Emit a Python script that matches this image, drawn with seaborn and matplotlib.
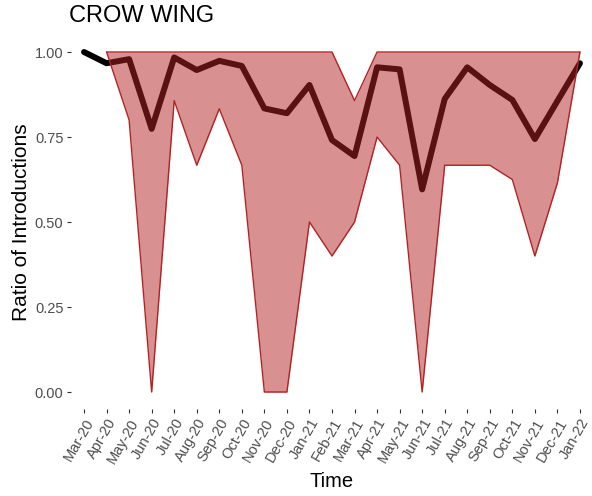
import numpy as np
import pandas as pd
import matplotlib
matplotlib.use("Agg")
import matplotlib.pyplot as plt
import seaborn as sns

# -------------------------------
# DATA
# -------------------------------
months = ["Mar-20", "Apr-20", "May-20", "Jun-20", "Jul-20", "Aug-20", "Sep-20",
          "Oct-20", "Nov-20", "Dec-20", "Jan-21", "Feb-21", "Mar-21", "Apr-21",
          "May-21", "Jun-21", "Jul-21", "Aug-21", "Sep-21", "Oct-21", "Nov-21",
          "Dec-21", "Jan-22"]
mean_ratio = [1.00, 0.967, 0.979, 0.774, 0.984, 0.947, 0.974, 0.959, 0.834, 0.820,
              0.903, 0.741, 0.694, 0.955, 0.949, 0.596, 0.862, 0.955, 0.903, 0.859,
              0.744, 0.856, 0.967]
lower = [np.nan, 1.00, 0.80, 0.00, 0.857, 0.667, 0.833, 0.667, 0.00, 0.00,
         0.50, 0.40, 0.50, 0.75, 0.667, 0.00, 0.667, 0.667, 0.667, 0.625,
         0.40, 0.615, 1.00]
upper = [np.nan, 1.00, 1.00, 1.00, 1.00, 1.00, 1.00, 1.00, 1.00, 1.00,
         1.00, 1.00, 0.857, 1.00, 1.00, 1.00, 1.00, 1.00, 1.00, 1.00,
         1.00, 1.00, 1.00]

df = pd.DataFrame({"idx": range(len(months)), "Time": months,
                   "mean": mean_ratio, "lower": lower, "upper": upper})

# -------------------------------
# STYLE
# -------------------------------
sns.set_theme(style="white")
plt.rcParams["font.family"] = ["Liberation Sans", "DejaVu Sans"]

fig = plt.figure(figsize=(5.92, 4.96), dpi=100)
ax = fig.add_axes([0.1191, 0.1754, 0.8834, 0.754])

# mean line first, ribbon drawn over it with alpha
sns.lineplot(data=df, x="idx", y="mean", color="black", linewidth=4.3,
             ax=ax, zorder=2)
ax.fill_between(df["idx"], df["lower"], df["upper"], facecolor="#b22222",
                alpha=0.5, zorder=3, linewidth=0)
ax.plot(df["idx"], df["upper"], color="#b22222", linewidth=1.0, zorder=4)
ax.plot(df["idx"], df["lower"], color="#b22222", linewidth=1.0, zorder=4)

# axes
ax.set_xlim(-0.6, len(months) - 1 + 0.6)
ax.set_ylim(-0.05, 1.05)
ax.set_xticks(df["idx"])
ax.set_xticklabels(months, rotation=60, ha="right", va="top",
                   rotation_mode="anchor")
ax.set_yticks([0, 0.25, 0.5, 0.75, 1.0])
ax.set_yticklabels(["0.00", "0.25", "0.50", "0.75", "1.00"])
for s in ax.spines.values():
    s.set_visible(False)
ax.tick_params(axis="both", which="major", length=2.6, width=0.8,
               color="#333333", labelcolor="#4d4d4d", labelsize=10.5,
               bottom=True, left=True, pad=2.5)

ax.set_xlabel("Time", fontsize=14.5, color="black", labelpad=5)
ax.set_ylabel("Ratio of Introductions", fontsize=15, color="black", labelpad=3)
fig.text(0.117, 0.968, "CROW WING", fontsize=17, color="black",
         ha="left", va="center")

fig.savefig("out.png", dpi=100)
